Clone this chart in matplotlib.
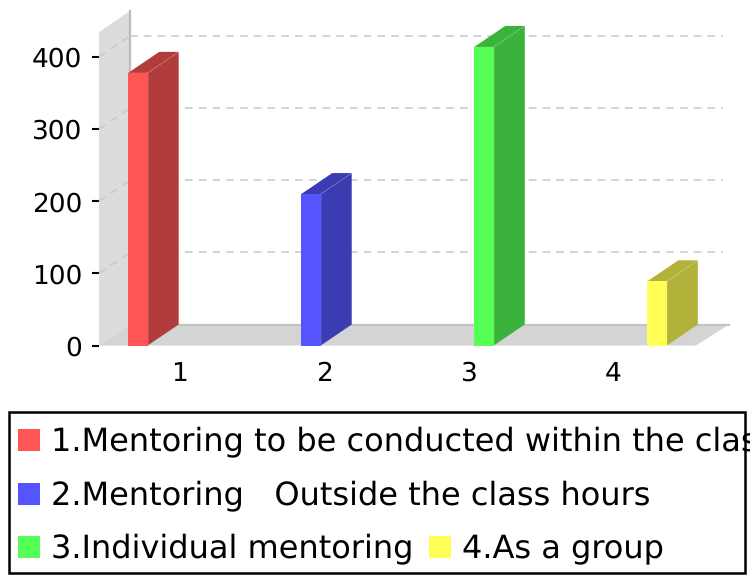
import matplotlib

matplotlib.use('Agg')
import matplotlib.pyplot as plt
from matplotlib.patches import Polygon, Rectangle
from matplotlib.transforms import Affine2D

W, H = 752, 575
DEPTH_X, DEPTH_Y = 31, 21

values = [378, 210, 414, 89]
face_colors = ['#ff5555', '#5555ff', '#55ff55', '#ffff55']
side_colors = ['#b23b3b', '#3b3bb2', '#3bb23b', '#b2b23b']
yticks = [0, 100, 200, 300, 400]
xtick_labels = ['1', '2', '3', '4']
xtick_pos = [0.243, 1.075, 1.915, 2.748]
legend_labels = ['1.Mentoring to be conducted within the class',
                 '2.Mentoring   Outside the class hours',
                 '3.Individual mentoring',
                 '4.As a group']

plt.rcParams['font.family'] = 'DejaVu Sans'
plt.rcParams['text.hinting'] = 'none'
fig = plt.figure(figsize=(W / 100, H / 100), dpi=100)

# front plane of the fake 3d plot
ax = fig.add_axes([99 / W, (H - 345.5) / H, 597 / W, 313.5 / H])
ax.set_xlim(-0.225, 3.225)
ax.set_ylim(0, 434.7)
ax.patch.set_visible(False)
for s in ax.spines.values():
    s.set_visible(False)

back = ax.transData + Affine2D().translate(DEPTH_X, DEPTH_Y)
x0, x1 = ax.get_xlim()
y0, y1 = ax.get_ylim()
grid_end = x1 - 4 / 173


def quad(pts_front, pts_back, color, z):
    # pts_front are drawn in the front plane, pts_back pushed to the back plane
    px = [ax.transData.transform(p) for p in pts_front]
    px += [back.transform(p) for p in pts_back]
    ax.add_patch(Polygon(px, closed=True, transform=None, facecolor=color,
                         edgecolor='none', linewidth=0, zorder=z, clip_on=False))


# wall and floor, the floor runs a little past the back plane on the right
floor_end = x1 + 2 / 173
quad([(x0, y0), (x0, y1)], [(x0, y1), (x0, y0)], '#dcdcdc', 1)
quad([(x0, y0), (x1, y0)], [(floor_end, y0), (x0, y0)], '#d4d4d4', 1)
ax.plot([x0, x0], [y0, y1], transform=back, color='#bebebe', lw=1.7, zorder=1.5, clip_on=False)
ax.plot([x0, floor_end], [y0, y0], transform=back, color='#c4c4c4', lw=1.6, zorder=1.5, clip_on=False)

# grid, on the wall and along the back
for t in yticks[1:]:
    ax.plot([x0, grid_end], [t, t], transform=back, color='#c8c8c8', lw=1.1,
            dashes=(5, 4), zorder=2, clip_on=False)
    a = ax.transData.transform((x0, t))
    b = back.transform((x0, t))
    ax.plot([a[0], b[0]], [a[1], b[1]], transform=None, color='#c8c8c8', lw=1.1,
            dashes=(5, 4), zorder=2, clip_on=False)

# bars
bar_w = 19.5 / 173
for i, v in enumerate(values):
    l, r = i - bar_w / 2, i + bar_w / 2
    quad([(r, 0), (r, v)], [(r, v), (r, 0)], side_colors[i], 3)
    quad([(l, v), (r, v)], [(r, v), (l, v)], side_colors[i], 3)
    ax.bar(i, v, width=bar_w, color=face_colors[i], zorder=4, clip_on=False)
    a = ax.transData.transform((r, v))
    b = back.transform((r, v))
    ax.plot([a[0], b[0]], [a[1], b[1]], transform=None, color='#ffffff', alpha=0.15,
            lw=0.6, zorder=5, clip_on=False)
    ax.plot([r, r], [0, v], color='#ffffff', alpha=0.12, lw=0.6, zorder=5, clip_on=False)

ax.set_yticks(yticks)
ax.set_xticks(xtick_pos)
ax.set_xticklabels(xtick_labels)
ax.tick_params(axis='y', labelsize=19, length=5.2, width=1.5, pad=7)
ax.tick_params(axis='x', labelsize=19, length=0, pad=11)

# legend box, in pixel coordinates and clipped just short of the image edge
lg = fig.add_axes([0, 0, 750 / W, 1])
lg.set_xlim(0, 750)
lg.set_ylim(H, 0)
lg.axis('off')
lg.add_patch(Rectangle((9, 412), 736, 161, facecolor='white', edgecolor='black', linewidth=1.8))
rows = [(18, 451), (18, 505), (18, 558), (429, 558)]
for (sx, base), label, c in zip(rows, legend_labels, face_colors):
    lg.add_patch(Rectangle((sx, base - 22), 22, 22, facecolor=c, edgecolor='none'))
    lg.text(sx + 33, base - 0.7, label, fontsize=23, va='baseline', ha='left', color='black', clip_on=True)

plt.savefig('out.png', dpi=100)
